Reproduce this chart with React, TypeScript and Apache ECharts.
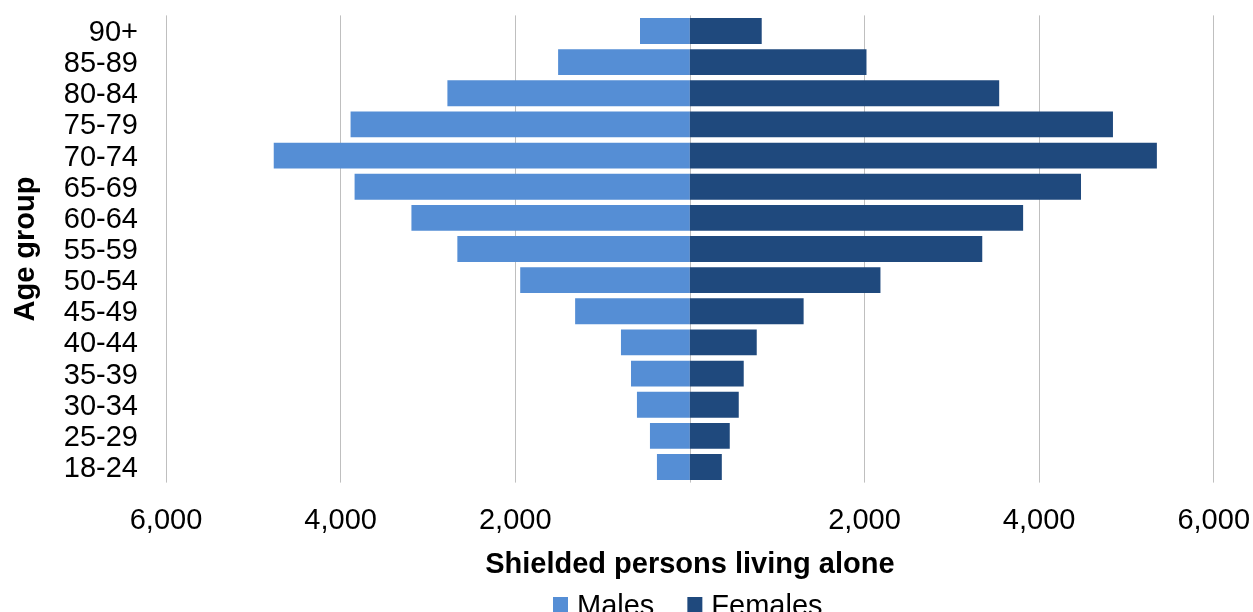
import React, { useEffect, useRef } from "react";
import * as echarts from "echarts";

const ageGroups = ["18-24", "25-29", "30-34", "35-39", "40-44", "45-49", "50-54", "55-59", "60-64", "65-69", "70-74", "75-79", "80-84", "85-89", "90+"];
const males = [377, 457, 606, 674, 789, 1314, 1943, 2663, 3189, 3840, 4766, 3886, 2777, 1509, 571];
const females = [366, 457, 560, 617, 766, 1303, 2183, 3349, 3817, 4480, 5349, 4846, 3543, 2023, 823];
const xTicks = { min: -6000, max: 6000, interval: 2000 };

const FONT = "'Liberation Sans', Arial, sans-serif";

export default function App() {
  const ref = useRef<HTMLDivElement>(null);
  useEffect(() => {
    if (!ref.current) return;
    const chart = echarts.init(ref.current, undefined, { renderer: "svg" });
    chart.setOption({
      animation: false,
      textStyle: { fontFamily: FONT },
      grid: { left: 166, right: 39, top: 15.4, bottom: 129.4 },
      legend: {
        left: 548,
        top: 585,
        itemWidth: 15,
        itemHeight: 15,
        itemGap: 33,
        icon: "rect",
        textStyle: { fontSize: 29, color: "#000", fontFamily: FONT, padding: [0, 0, 0, 4] },
        data: ["Males", "Females"],
      },
      xAxis: {
        type: "value",
        min: xTicks.min,
        max: xTicks.max,
        interval: xTicks.interval,
        name: "Shielded persons living alone",
        nameLocation: "middle",
        nameGap: 66,
        nameTextStyle: { fontSize: 29, fontWeight: "bold", color: "#000", fontFamily: FONT },
        axisLine: { show: false },
        axisTick: { show: false },
        splitLine: { show: true, lineStyle: { color: "#BFBFBF", width: 1 } },
        axisLabel: {
          fontSize: 29,
          color: "#000",
          margin: 22,
          fontFamily: FONT,
          formatter: (v: number) => (v === 0 ? "" : Math.abs(v).toLocaleString("en-US")),
        },
      },
      yAxis: {
        type: "category",
        data: ageGroups,
        name: "Age group",
        nameLocation: "middle",
        nameGap: 128,
        nameTextStyle: { fontSize: 29, fontWeight: "bold", color: "#000", fontFamily: FONT },
        axisLine: { show: false },
        axisTick: { show: false },
        axisLabel: { fontSize: 29, color: "#000", margin: 28, fontFamily: FONT, interval: 0 },
      },
      series: [
        {
          name: "Males",
          type: "bar",
          stack: "total",
          barCategoryGap: "17%",
          itemStyle: { color: "#558ED5" },
          data: males.map((v) => -v),
        },
        {
          name: "Females",
          type: "bar",
          stack: "total",
          barCategoryGap: "17%",
          itemStyle: { color: "#1F497D" },
          data: females,
        },
      ],
    });
    return () => chart.dispose();
  }, []);
  return <div ref={ref} style={{ position: "fixed", left: 0, top: 0, width: 1253, height: 612 }} />;
}
